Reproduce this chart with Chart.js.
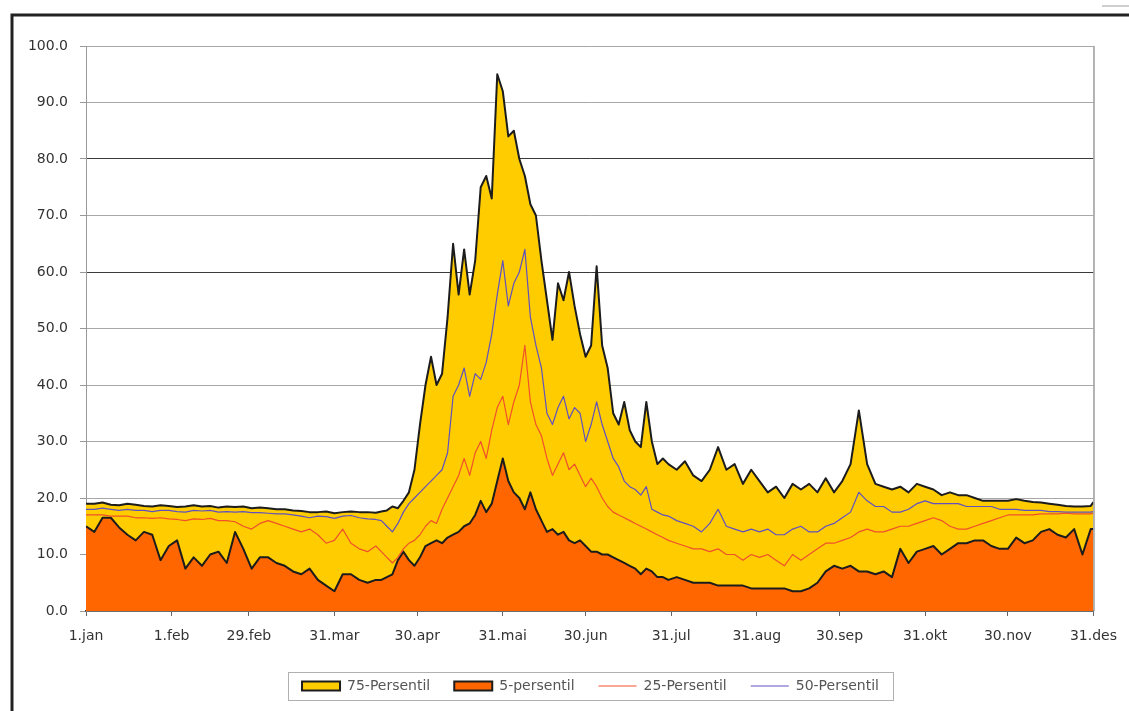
<!DOCTYPE html>
<html>
<head>
<meta charset="utf-8">
<script src="https://cdn.jsdelivr.net/npm/chart.js@4/dist/chart.umd.min.js"></script>
<style>
  html, body { margin: 0; padding: 0; background: #fff; }
  #wrap { position: relative; width: 1129px; height: 711px; }
</style>
</head>
<body>
<div id="wrap"><canvas id="persentil"></canvas></div>
<script>
// dag i året (0 = 1.jan) for tick-etikettene
const tickDays = [0, 31, 59, 90, 120, 151, 181, 212, 243, 273, 304, 334, 365]
const tickLabels = ['1.jan', '1.feb', '29.feb', '31.mar', '30.apr', '31.mai', '30.jun', '31.jul', '31.aug', '30.sep', '31.okt', '30.nov', '31.des']

// dagene som er lest av bildet
const days = [
  0, 3, 6, 9, 12, 15, 18, 21, 24, 27, 30, 33, 36, 39, 42, 45, 48, 51, 54, 57,
  60, 63, 66, 69, 72, 75, 78, 81, 84, 87, 90, 93, 96, 99, 102, 105,
  107, 109, 111, 113, 115, 117, 119, 121, 123, 125, 127, 129, 131, 133, 135, 137, 139, 141,
  143, 145, 147, 149, 151, 153, 155, 157, 159, 161, 163, 165, 167, 169, 171, 173, 175, 177,
  179, 181, 183, 185, 187, 189, 191, 193, 195, 197, 199, 201, 203, 205, 207, 209, 211,
  214, 217, 220, 223, 226, 229, 232, 235, 238, 241, 244, 247, 250, 253, 256, 259, 262, 265,
  268, 271, 274, 277, 280, 283, 286, 289, 292, 295, 298, 301, 304, 307, 310, 313, 316, 319,
  322, 325, 328, 331, 334, 337, 340, 343, 346, 349, 352, 355, 358, 361, 364, 365
]

const p75 = [
  19, 19, 19.2, 18.8, 18.7, 19, 18.8, 18.6, 18.5, 18.7, 18.6, 18.4, 18.5, 18.7, 18.5, 18.6, 18.3, 18.5, 18.4, 18.5,
  18.2, 18.3, 18.2, 18, 18, 17.8, 17.7, 17.5, 17.5, 17.6, 17.3, 17.5, 17.6, 17.5, 17.5, 17.4,
  17.6, 17.8, 18.5, 18.2, 19.5, 21, 25, 33, 40, 45, 40, 42, 52, 65, 56, 64, 56, 62,
  75, 77, 73, 95, 92, 84, 85, 80, 77, 72, 70, 62, 55, 48, 58, 55, 60, 54,
  49, 45, 47, 61, 47, 43, 35, 33, 37, 32, 30, 29, 37, 30, 26, 27, 26,
  25, 26.5, 24, 23, 25, 29, 25, 26, 22.5, 25, 23, 21, 22, 20, 22.5, 21.5, 22.5, 21,
  23.5, 21, 23, 26, 35.5, 26, 22.5, 22, 21.5, 22, 21, 22.5, 22, 21.5, 20.5, 21, 20.5, 20.5,
  20, 19.5, 19.5, 19.5, 19.5, 19.8, 19.5, 19.3, 19.2, 19, 18.8, 18.6, 18.5, 18.5, 18.6, 19.3
]

const p5 = [
  15, 14, 16.5, 16.5, 14.8, 13.5, 12.5, 14, 13.5, 9, 11.5, 12.5, 7.5, 9.5, 8, 10, 10.5, 8.5, 14, 11,
  7.5, 9.5, 9.5, 8.5, 8, 7, 6.5, 7.5, 5.5, 4.5, 3.5, 6.5, 6.5, 5.5, 5, 5.5,
  5.5, 6, 6.5, 9, 10.5, 9, 8, 9.5, 11.5, 12, 12.5, 12, 13, 13.5, 14, 15, 15.5, 17,
  19.5, 17.5, 19, 23, 27, 23, 21, 20, 18, 21, 18, 16, 14, 14.5, 13.5, 14, 12.5, 12,
  12.5, 11.5, 10.5, 10.5, 10, 10, 9.5, 9, 8.5, 8, 7.5, 6.5, 7.5, 7, 6, 6, 5.5,
  6, 5.5, 5, 5, 5, 4.5, 4.5, 4.5, 4.5, 4, 4, 4, 4, 4, 3.5, 3.5, 4, 5,
  7, 8, 7.5, 8, 7, 7, 6.5, 7, 6, 11, 8.5, 10.5, 11, 11.5, 10, 11, 12, 12,
  12.5, 12.5, 11.5, 11, 11, 13, 12, 12.5, 14, 14.5, 13.5, 13, 14.5, 10, 14.5, 14.5
]

const p25 = [
  17, 17, 17, 16.8, 16.8, 16.8, 16.5, 16.5, 16.4, 16.5, 16.3, 16.2, 16, 16.3, 16.2, 16.4, 16, 16, 15.8, 15,
  14.5, 15.5, 16, 15.5, 15, 14.5, 14, 14.5, 13.5, 12, 12.5, 14.5, 12, 11, 10.5, 11.5,
  10.5, 9.5, 8.5, 9.5, 11, 12, 12.5, 13.5, 15, 16, 15.5, 18, 20, 22, 24, 27, 24, 28,
  30, 27, 32, 36, 38, 33, 37, 40, 47, 37, 33, 31, 27, 24, 26, 28, 25, 26,
  24, 22, 23.5, 22, 20, 18.5, 17.5, 17, 16.5, 16, 15.5, 15, 14.5, 14, 13.5, 13, 12.5,
  12, 11.5, 11, 11, 10.5, 11, 10, 10, 9, 10, 9.5, 10, 9, 8, 10, 9, 10, 11,
  12, 12, 12.5, 13, 14, 14.5, 14, 14, 14.5, 15, 15, 15.5, 16, 16.5, 16, 15, 14.5, 14.5,
  15, 15.5, 16, 16.5, 17, 17, 17, 17, 17.2, 17.2, 17.2, 17.3, 17.2, 17.2, 17.2, 17.3
]

const p50 = [
  18, 18, 18.2, 18, 17.8, 18, 17.8, 17.8, 17.6, 17.8, 17.8, 17.6, 17.5, 17.8, 17.7, 17.8, 17.5, 17.6, 17.5, 17.6,
  17.4, 17.4, 17.3, 17.2, 17.2, 17, 16.8, 16.5, 16.8, 16.7, 16.4, 16.8, 16.9, 16.5, 16.3, 16.2,
  16, 15, 14, 15.5, 17.5, 19, 20, 21, 22, 23, 24, 25, 28, 38, 40, 43, 38, 42,
  41, 44, 49, 56, 62, 54, 58, 60, 64, 52, 47, 43, 35, 33, 36, 38, 34, 36,
  35, 30, 33, 37, 33, 30, 27, 25.5, 23, 22, 21.5, 20.5, 22, 18, 17.5, 17, 16.8,
  16, 15.5, 15, 14, 15.5, 18, 15, 14.5, 14, 14.5, 14, 14.5, 13.5, 13.5, 14.5, 15, 14, 14,
  15, 15.5, 16.5, 17.5, 21, 19.5, 18.5, 18.5, 17.5, 17.5, 18, 19, 19.5, 19, 19, 19, 19, 18.5,
  18.5, 18.5, 18.5, 18, 18, 18, 17.8, 17.8, 17.8, 17.6, 17.6, 17.5, 17.5, 17.5, 17.5, 17.6
]

const seriesNames = ['75-Persentil', '5-persentil', '25-Persentil', '50-Persentil']

const toPoints = (vals) => days.map((d, i) => ({ x: d, y: vals[i] }))

Chart.defaults.font.family = '"DejaVu Sans", sans-serif'
Chart.defaults.animation = false

// forklaringen står litt til høyre for midten i originalen
const legendShift = {
  id: 'legendShift',
  afterUpdate(chart) {
    const lg = chart.legend
    const dx = 42
    lg.left += dx
    lg.right += dx
    lg.legendHitBoxes.forEach(b => { b.left += dx })
  }
}

const frame = {
  id: 'frame',
  beforeDraw(chart) {
    const c = chart.ctx
    c.save()
    c.fillStyle = '#fff'
    c.fillRect(0, 0, chart.width, chart.height)
    c.restore()
  },
  afterDraw(chart) {
    const c = chart.ctx
    const a = chart.chartArea
    c.save()
    // høyre kant av plottet
    c.strokeStyle = '#9a9a9a'
    c.lineWidth = 1.5
    c.beginPath()
    c.moveTo(a.right + 0.5, a.top)
    c.lineTo(a.right + 0.5, a.bottom)
    c.stroke()
    // ytre ramme
    c.strokeStyle = '#222'
    c.lineWidth = 3
    c.beginPath()
    c.moveTo(12, chart.height)
    c.lineTo(12, 15)
    c.lineTo(chart.width, 15)
    c.stroke()
    c.strokeStyle = '#cfcfcf'
    c.lineWidth = 2
    c.beginPath()
    c.moveTo(1102, 6)
    c.lineTo(chart.width, 6)
    c.stroke()
    // ramme rundt forklaringen
    const boxes = chart.legend.legendHitBoxes
    if (boxes && boxes.length) {
      const left = Math.min(...boxes.map(b => b.left)) - 14
      const right = Math.max(...boxes.map(b => b.left + b.width)) + 14
      const top = boxes[0].top - 7
      const bottom = boxes[0].top + boxes[0].height + 7
      c.strokeStyle = '#b0b0b0'
      c.lineWidth = 1
      c.strokeRect(Math.round(left) + 0.5, Math.round(top) + 0.5, Math.round(right - left), Math.round(bottom - top))
    }
    c.restore()
  }
}

const ctx = document.getElementById('persentil').getContext('2d')

new Chart(ctx, {
  type: 'line',
  data: {
    datasets: [{
      label: seriesNames[0],
      data: toPoints(p75),
      backgroundColor: '#FFCC00',
      borderColor: '#1c1c1c',
      borderWidth: 2,
      fill: 'origin',
      pointStyle: 'rect',
      order: 4
    }, {
      label: seriesNames[1],
      data: toPoints(p5),
      backgroundColor: '#FF6600',
      borderColor: '#1c1c1c',
      borderWidth: 2,
      fill: 'origin',
      pointStyle: 'rect',
      order: 3
    }, {
      label: seriesNames[2],
      data: toPoints(p25),
      backgroundColor: '#F0502A',
      borderColor: '#F0502A',
      borderWidth: 1.2,
      fill: false,
      pointStyle: 'line',
      order: 1
    }, {
      label: seriesNames[3],
      data: toPoints(p50),
      backgroundColor: '#6050C0',
      borderColor: '#6050C0',
      borderWidth: 1.2,
      fill: false,
      pointStyle: 'line',
      order: 2
    }]
  },
  options: {
    responsive: true,
    maintainAspectRatio: false,
    layout: {
      padding: { top: 46, right: 32, bottom: 8, left: 0 }
    },
    elements: {
      point: { radius: 0, hoverRadius: 0 },
      line: { tension: 0, borderJoinStyle: 'round' }
    },
    plugins: {
      tooltip: { enabled: false },
      legend: {
        position: 'bottom',
        labels: {
          usePointStyle: true,
          pointStyleWidth: 38,
          boxHeight: 9,
          padding: 24,
          color: '#555',
          font: { size: 14 },
          sort: (a, b) => a.datasetIndex - b.datasetIndex
        }
      }
    },
    scales: {
      x: {
        type: 'linear',
        min: 0,
        max: 365,
        afterBuildTicks: (axis) => { axis.ticks = tickDays.map(v => ({ value: v })) },
        afterFit: (axis) => { axis.height = 44 },
        ticks: {
          autoSkip: false,
          maxRotation: 0,
          padding: 12,
          color: '#333',
          font: { size: 14 },
          callback: (v) => tickLabels[tickDays.indexOf(v)]
        },
        grid: {
          drawOnChartArea: false,
          drawTicks: true,
          tickLength: 5,
          color: '#666'
        },
        border: { color: '#333', width: 1.5 }
      },
      y: {
        min: 0,
        max: 100,
        afterFit: (axis) => { axis.width = 86 },
        ticks: {
          stepSize: 10,
          padding: 12,
          color: '#333',
          font: { size: 14 },
          callback: (v) => v.toFixed(1)
        },
        grid: {
          color: (c) => (c.tick && (c.tick.value === 60 || c.tick.value === 80)) ? '#3a3a3a' : '#a8a8a8',
          lineWidth: 1,
          tickLength: 6,
          tickColor: '#999'
        },
        border: { color: '#999', width: 1 }
      }
    }
  },
  plugins: [legendShift, frame]
})
</script>
</body>
</html>
